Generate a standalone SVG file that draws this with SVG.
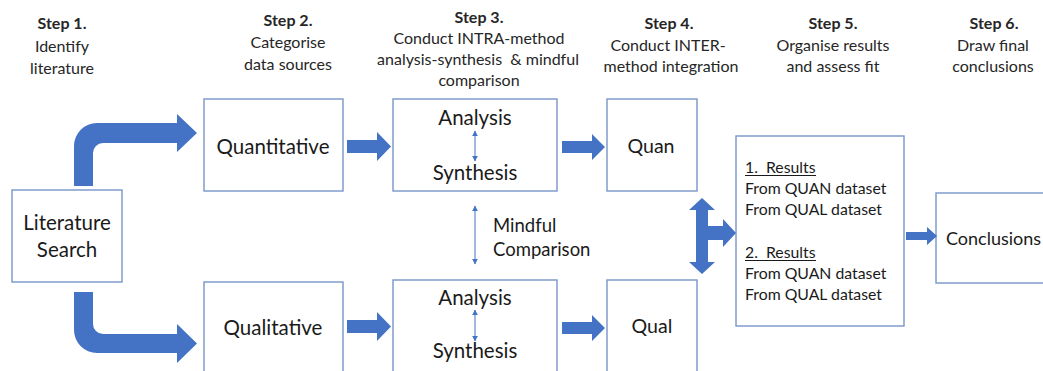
<svg xmlns="http://www.w3.org/2000/svg" width="1043" height="371" viewBox="0 0 1043 371">
<defs>
<style>
.box{fill:#fff;stroke:#7895C9;stroke-width:1.4}
.arr{fill:#4472C4}
.thin{stroke:#4472C4;stroke-width:1;fill:none}
.hd{font-family:Lato,"Liberation Sans",sans-serif;font-size:16px;fill:#262626;text-anchor:middle}
.hd .b{font-weight:bold}
.lbl{font-family:Lato,"Liberation Sans",sans-serif;font-size:20.5px;fill:#1a1a1a;text-anchor:middle}
.res{font-family:Lato,"Liberation Sans",sans-serif;font-size:15.8px;fill:#1a1a1a}
</style>
<marker id="sa" viewBox="0 0 10 10" refX="9" refY="5" markerWidth="6" markerHeight="6" orient="auto-start-reverse">
<path d="M0,0 L10,5 L0,10 Z" fill="#4472C4"/>
</marker>
</defs>
<rect width="1043" height="371" fill="#fff"/>

<g id="headers">
<text class="hd"><tspan class="b" x="62" y="29">Step 1.</tspan><tspan x="62" y="52">Identify</tspan><tspan x="62" y="74">literature</tspan></text>
<text class="hd"><tspan class="b" x="288" y="26">Step 2.</tspan><tspan x="288" y="48">Categorise</tspan><tspan x="288" y="70">data sources</tspan></text>
<text class="hd"><tspan class="b" x="479" y="23">Step 3.</tspan><tspan x="479" y="44">Conduct INTRA-method</tspan><tspan x="478" y="65">analysis-synthesis &#160;&amp; mindful</tspan><tspan x="479" y="86">comparison</tspan></text>
<text class="hd"><tspan class="b" x="669" y="29">Step 4.</tspan><tspan x="668" y="51">Conduct INTER-</tspan><tspan x="671" y="72">method integration</tspan></text>
<text class="hd"><tspan class="b" x="833" y="29">Step 5.</tspan><tspan x="833" y="51">Organise results</tspan><tspan x="833" y="72">and assess fit</tspan></text>
<text class="hd"><tspan class="b" x="994" y="29">Step 6.</tspan><tspan x="993" y="51">Draw final</tspan><tspan x="993" y="72">conclusions</tspan></text>
</g>

<g id="node-literature">
<rect class="box" x="12" y="190" width="110" height="92"/>
<text class="lbl"><tspan x="67" y="230">Literature</tspan><tspan x="67" y="257">Search</tspan></text>
</g>
<g id="node-quantitative">
<rect class="box" x="204" y="99" width="139" height="92"/>
<text class="lbl" x="273" y="154">Quantitative</text>
</g>
<g id="node-qualitative">
<rect class="box" x="204" y="282" width="139" height="95"/>
<text class="lbl" x="273" y="335">Qualitative</text>
</g>
<g id="node-analysis-quan">
<rect class="box" x="393" y="99" width="164" height="92"/>
<text class="lbl"><tspan x="475" y="125">Analysis</tspan><tspan x="475" y="180">Synthesis</tspan></text>
</g>
<g id="node-analysis-qual">
<rect class="box" x="393" y="280" width="164" height="97"/>
<text class="lbl"><tspan x="475" y="305">Analysis</tspan><tspan x="475" y="358">Synthesis</tspan></text>
</g>
<g id="mindful-label">
<text class="lbl" style="text-anchor:start;font-size:18.5px"><tspan x="493" y="232">Mindful</tspan><tspan x="493" y="256">Comparison</tspan></text>
</g>
<g id="node-quan">
<rect class="box" x="607" y="99" width="90" height="92"/>
<text class="lbl" x="651" y="153" style="font-size:19.6px">Quan</text>
</g>
<g id="node-qual">
<rect class="box" x="607" y="280" width="90" height="97"/>
<text class="lbl" x="652" y="333" style="font-size:19.6px">Qual</text>
</g>
<g id="node-results">
<rect class="box" x="736" y="136" width="168" height="190"/>
<text class="res"><tspan x="745" y="173">1.&#160; Results</tspan><tspan x="745" y="194">From QUAN dataset</tspan><tspan x="745" y="215">From QUAL dataset</tspan><tspan x="745" y="258">2.&#160; Results</tspan><tspan x="745" y="279">From QUAN dataset</tspan><tspan x="745" y="300">From QUAL dataset</tspan></text>
<line x1="745" y1="175.5" x2="816" y2="175.5" stroke="#1a1a1a" stroke-width="1"/>
<line x1="745" y1="260.5" x2="816" y2="260.5" stroke="#1a1a1a" stroke-width="1"/>
</g>
<g id="node-conclusions">
<rect class="box" x="936" y="193" width="115" height="90"/>
<text class="lbl" x="946" y="245" style="text-anchor:start;font-size:18px">Conclusions</text>
</g>

<g id="connectors">
<path class="arr" d="M74,186 V146 A23,23 0 0 1 97,123 H177 V114 L197,133 L177,152 V143 H103 A10,10 0 0 0 93,153 V186 Z"/>
<path class="arr" d="M74,292 H93 V324 A10,10 0 0 0 103,334 H177 V324 L197,343.5 L177,363 V353 H97 A23,23 0 0 1 74,330 Z"/>
<path class="arr" d="M347,140 H377 V132 L391,146.5 L377,161 V153 H347 Z"/>
<path class="arr" d="M347,320 H377 V312 L391,326.5 L377,341 V333 H347 Z"/>
<path class="arr" d="M562,141 H592 V134 L605,147 L592,160 V153 H562 Z"/>
<path class="arr" d="M562,322 H592 V315 L605,328 L592,341 V334 H562 Z"/>
<path class="arr" d="M702,198 L715,210 H708 V226 H723 V219 L736,233 L723,247 V240 H708 V262 H715 L702,274 L689,262 H696 V210 H689 Z"/>
<path class="arr" d="M906,232 H927 V227 L937,236 L927,245 V240 H906 Z"/>
<line class="thin" x1="475" y1="131" x2="475" y2="161" marker-start="url(#sa)" marker-end="url(#sa)"/>
<line class="thin" x1="475" y1="310" x2="475" y2="341" marker-start="url(#sa)" marker-end="url(#sa)"/>
<line class="thin" x1="475" y1="206" x2="475" y2="264" marker-start="url(#sa)" marker-end="url(#sa)"/>
</g>
</svg>
